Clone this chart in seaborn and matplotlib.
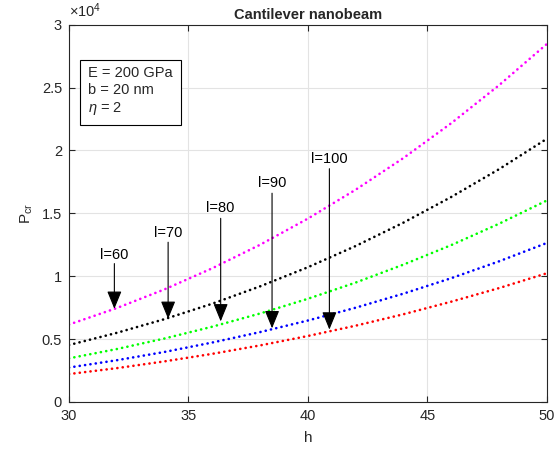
#!/usr/bin/env python3
"""
Critical buckling load of a cantilever nanobeam vs thickness h
for several length values l (dotted curves, MATLAB-like look).
"""

import pandas as pd
import matplotlib.pyplot as plt
import seaborn as sns

# ─── Data (P_cr in units of 1e4) ────────────────────────────────────────────
h = [30, 32, 34, 36, 38, 40, 42, 44, 46, 48, 50]
p_l60 = [0.615, 0.746, 0.895, 1.063, 1.250, 1.458, 1.688, 1.940, 2.217, 2.519, 2.847]
p_l70 = [0.452, 0.549, 0.658, 0.781, 0.919, 1.071, 1.240, 1.426, 1.630, 1.851, 2.093]
p_l80 = [0.346, 0.420, 0.504, 0.598, 0.703, 0.820, 0.949, 1.092, 1.247, 1.417, 1.602]
p_l90 = [0.273, 0.331, 0.397, 0.472, 0.555, 0.647, 0.749, 0.861, 0.984, 1.118, 1.264]
p_l100 = [0.221, 0.268, 0.322, 0.382, 0.449, 0.524, 0.606, 0.697, 0.797, 0.905, 1.023]

labels = ["l=60", "l=70", "l=80", "l=90", "l=100"]
colors = ["#ff00ff", "#000000", "#00ff00", "#0000ff", "#ff0000"]

# arrow annotations: (h at arrow, text y, arrow start y, arrow tip y)
arrow_h = [31.9, 34.15, 36.35, 38.5, 40.9]
arrow_text_y = [1.17, 1.34, 1.54, 1.74, 1.93]
arrow_start_y = [1.10, 1.27, 1.46, 1.66, 1.855]
arrow_tip_y = [0.74, 0.66, 0.64, 0.585, 0.575]

# ─── Build long-form frame ───────────────────────────────────────────────────
series = [p_l60, p_l70, p_l80, p_l90, p_l100]
rows = []
for lab, vals in zip(labels, series):
    for x, y in zip(h, vals):
        rows.append({"h": x, "P": y, "l": lab})
df = pd.DataFrame(rows)

# ─── Plot ────────────────────────────────────────────────────────────────────
sns.set_style("whitegrid")
plt.rcParams["font.family"] = ["Liberation Sans", "DejaVu Sans"]
plt.rcParams["mathtext.fontset"] = "custom"
plt.rcParams["mathtext.rm"] = "Liberation Sans"
plt.rcParams["mathtext.it"] = "Liberation Sans:italic"

fig = plt.figure(figsize=(5.54, 4.51), dpi=100)
ax = fig.add_axes([0.1245, 0.109, 0.8625, 0.836])

sns.lineplot(data=df, x="h", y="P", hue="l", palette=dict(zip(labels, colors)),
             linewidth=1.9, legend=False, ax=ax)
for line in ax.get_lines():
    line.set_dashes((0.05, 2.0))
    line.set_dash_capstyle("round")

ax.set_xlim(30, 50)
ax.set_ylim(0, 3)
ax.set_xticks([30, 35, 40, 45, 50])
ax.set_yticks([0, 0.5, 1, 1.5, 2, 2.5, 3])
ax.set_yticklabels(["0", "0.5", "1", "1.5", "2", "2.5", "3"])

axis_col = "#262626"
for s in ax.spines.values():
    s.set_visible(True)
    s.set_color(axis_col)
    s.set_linewidth(0.8)
ax.grid(True, color="#e3e3e3", linewidth=0.8)
ax.tick_params(direction="in", length=4, color=axis_col, labelcolor=axis_col,
               labelsize=10.5, top=True, right=True, bottom=True, left=True, pad=5)

ax.set_title("Cantilever nanobeam", fontsize=10.5, fontweight="bold", pad=4)
ax.set_xlabel("h", fontsize=11, color=axis_col, labelpad=6)
ax.set_ylabel(r"P$_{\mathrm{cr}}$", fontsize=11, color=axis_col, labelpad=5)
ax.text(0.0, 1.012, r"$\times$10$^{4}$", transform=ax.transAxes,
        fontsize=10.5, color=axis_col, ha="left", va="bottom")

# parameter box
ax.text(0.04, 0.892, "E = 200 GPa\nb = 20 nm\n$\\eta$ = 2", transform=ax.transAxes,
        fontsize=10.5, ha="left", va="top", linespacing=1.3,
        bbox=dict(boxstyle="square,pad=0.55", facecolor="white",
                  edgecolor="black", linewidth=0.8))

# arrows with length labels
for lab, xh, ty, sy, tip in zip(labels, arrow_h, arrow_text_y, arrow_start_y, arrow_tip_y):
    ax.text(xh, ty, lab, fontsize=10.5, ha="center", va="center", color="black")
    ax.annotate("", xy=(xh, tip), xytext=(xh, sy),
                arrowprops=dict(arrowstyle="-|>,head_length=1.1,head_width=0.45",
                                color="black", linewidth=0.8, shrinkA=0, shrinkB=0))

fig.savefig("out.png", dpi=100)
